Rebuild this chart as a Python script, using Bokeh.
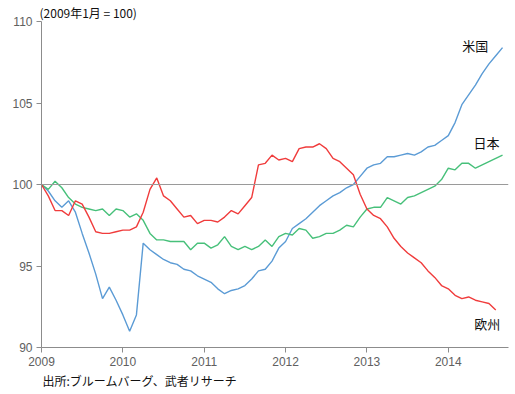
from bokeh.plotting import figure
from bokeh.models import Label, Span, FixedTicker, Range1d, Title
from bokeh.embed import file_html
from bokeh.resources import INLINE

us = [100, 99.6, 99.0, 98.6, 99.0, 98.3, 97.0, 95.8, 94.5, 93.0,
      93.7, 92.9, 92.0, 91.0, 92.0, 96.4, 96.0, 95.7, 95.4, 95.2,
      95.1, 94.8, 94.7, 94.4, 94.2, 94.0, 93.6, 93.3, 93.5, 93.6,
      93.8, 94.2, 94.7, 94.8, 95.3, 96.1, 96.5, 97.3, 97.6, 97.9,
      98.3, 98.7, 99.0, 99.3, 99.5, 99.8, 100.0, 100.5, 101.0, 101.2,
      101.3, 101.7, 101.7, 101.8, 101.9, 101.8, 102.0, 102.3, 102.4, 102.7,
      103.0, 103.8, 104.9, 105.5, 106.1, 106.8, 107.4, 107.9, 108.4]
japan = [100, 99.7, 100.2, 99.8, 99.2, 98.8, 98.6, 98.5, 98.4, 98.5,
         98.1, 98.5, 98.4, 98.0, 98.2, 97.8, 97.0, 96.6, 96.6, 96.5,
         96.5, 96.5, 96.0, 96.4, 96.4, 96.1, 96.3, 96.8, 96.2, 96.0,
         96.2, 96.0, 96.2, 96.6, 96.2, 96.8, 97.0, 96.9, 97.3, 97.2,
         96.7, 96.8, 97.0, 97.0, 97.2, 97.5, 97.4, 98.0, 98.5, 98.6,
         98.6, 99.2, 99.0, 98.8, 99.2, 99.3, 99.5, 99.7, 99.9, 100.3,
         101.0, 100.9, 101.3, 101.3, 101.0, 101.2, 101.4, 101.6, 101.8]
europe = [100, 99.3, 98.4, 98.4, 98.1, 99.0, 98.8, 98.0, 97.1, 97.0,
          97.0, 97.1, 97.2, 97.2, 97.4, 98.3, 99.7, 100.4, 99.3, 99.0,
          98.5, 98.0, 98.1, 97.6, 97.8, 97.8, 97.7, 98.0, 98.4, 98.2,
          98.7, 99.2, 101.2, 101.3, 101.8, 101.5, 101.6, 101.4, 102.2, 102.3,
          102.3, 102.5, 102.2, 101.6, 101.4, 101.0, 100.6, 99.4, 98.5, 98.1,
          97.9, 97.4, 96.7, 96.2, 95.8, 95.5, 95.2, 94.7, 94.3, 93.8,
          93.6, 93.2, 93.0, 93.1, 92.9, 92.8, 92.7, 92.3]

start_year = 2009
year_ticks = [2009, 2010, 2011, 2012, 2013, 2014]
y_ticks = [90, 95, 100, 105, 110]
series_names = ["米国", "日本", "欧州"]
subtitle = "(2009年1月 = 100)"
source = "出所:ブルームバーグ、武者リサーチ"

def months(n):
    return [start_year + i / 12 for i in range(n)]

jp_font = "Noto Sans CJK JP"
num_font = "Liberation Sans"

p = figure(width=513, height=392, output_backend="svg", toolbar_location=None,
           x_range=Range1d(2009, 2014.74), y_range=Range1d(90, 110),
           min_border_left=41, min_border_right=5, min_border_top=19,
           min_border_bottom=45)
p.outline_line_color = None
p.grid.visible = False
p.background_fill_color = "white"

top_title = Title(text=subtitle, align="left", text_font=jp_font,
                  text_font_size="12px", text_color="#111111",
                  text_font_style="normal", standoff=2, offset=-2)
p.add_layout(top_title, "above")
bottom_title = Title(text=source, align="left", text_font=jp_font,
                     text_font_size="12px", text_color="#111111",
                     text_font_style="normal", standoff=2, offset=1)
p.add_layout(bottom_title, "below")

p.xaxis.ticker = FixedTicker(ticks=year_ticks)
p.yaxis.ticker = FixedTicker(ticks=y_ticks)
p.xaxis.minor_tick_line_color = None
p.yaxis.minor_tick_line_color = None
for ax in (p.xaxis, p.yaxis):
    ax.axis_line_color = "#8c8c8c"
    ax.major_tick_line_color = "#8c8c8c"
    ax.major_tick_in = 0
    ax.major_tick_out = 5
    ax.major_label_text_font = num_font
    ax.major_label_text_font_size = "12px"
    ax.major_label_text_color = "#606060"
    ax.major_label_standoff = 4

p.add_layout(Span(location=100, dimension="width", line_color="#9a9a9a", line_width=1))

blue = "#5b9bd5"
green = "#47c07a"
red = "#f03c3c"
p.line(months(len(us)), us, line_color=blue, line_width=1.4)
p.line(months(len(japan)), japan, line_color=green, line_width=1.4)
p.line(months(len(europe)), europe, line_color=red, line_width=1.4)

label_pos = [(2014.33, 108.5), (2014.47, 102.6), (2014.48, 91.5)]
for name, (lx, ly) in zip(series_names, label_pos):
    p.add_layout(Label(x=lx, y=ly, text=name, text_font=jp_font,
                       text_font_size="13px", text_color="#111111",
                       text_align="center", text_baseline="middle"))

open("out.html", "w").write(file_html(p, INLINE))
